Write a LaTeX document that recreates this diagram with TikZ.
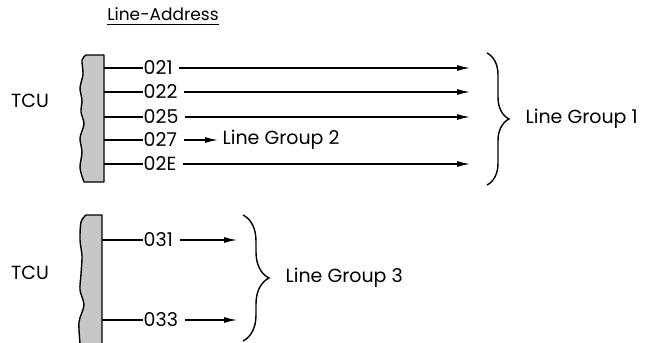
\documentclass[tikz,border=0pt]{standalone}
\usepackage{fontspec}
\setmainfont{Poppins}
\usetikzlibrary{arrows.meta,decorations.pathreplacing}
\begin{document}
\begin{tikzpicture}[x=1pt, y=-1pt, line width=1.3pt,
  txt/.style={font=\fontsize{19}{21}\selectfont, inner sep=0pt},
  addr/.style={txt, anchor=west},
  arr/.style={-{Latex[length=13pt,width=6pt]}},
  tcubar/.style={fill=black!22, draw=black, line width=1.4pt, line join=round},
  brc/.style={decorate, decoration={brace, amplitude=#1}, line width=1.4pt}]
\useasboundingbox (0,0) rectangle (649,343);
% heading
\node[txt, font=\fontsize{17}{19}\selectfont] (title) at (163,14) {Line-Address};
\draw ([yshift=-3pt]title.south west) -- ([yshift=-3pt]title.south east);
% first TCU
\node[txt] (tcu1) at (30,101) {TCU};
\filldraw[tcubar] plot[smooth] coordinates {(86,55) (82,60) (83,74) (80,88) (82,100) (81,112) (84,124) (80,138) (82,152) (80,168) (84,182)} -- (104,182) -- (104,55) -- cycle;
\node[addr] (a021) at (143,68) {021};
\node[addr] (a022) at (143,92) {022};
\node[addr] (a025) at (143,117) {025};
\node[addr] (a027) at (143,140) {027};
\node[addr] (a02E) at (143,164) {02E};
\node[txt, anchor=west] (lg2) at (222,140) {Line Group 2};
\coordinate (e021) at (470,68);
\coordinate (e022) at (470,92);
\coordinate (e025) at (470,117);
\coordinate (e02E) at (470,164);
\draw (104,68) -- (a021.west);
\draw (104,92) -- (a022.west);
\draw (104,117) -- (a025.west);
\draw (104,140) -- (a027.west);
\draw (104,164) -- (a02E.west);
\draw[arr] ([xshift=6pt]a021.east) -- (e021);
\draw[arr] ([xshift=6pt]a022.east) -- (e022);
\draw[arr] ([xshift=6pt]a025.east) -- (e025);
\draw[arr] ([xshift=6pt]a027.east) -- ([xshift=-4pt]lg2.west);
\draw[arr] ([xshift=6pt]a02E.east) -- (e02E);
\coordinate (g1top) at (487,53);
\coordinate (g1bot) at (487,185);
\draw[brc=22pt] (g1top) -- (g1bot);
\node[txt, anchor=west] (lg1) at (525,119) {Line Group 1};
% second TCU
\node[txt] (tcu2) at (30,273) {TCU};
\fill[tcubar, draw=none] plot[smooth] coordinates {(86,215) (81,222) (80,240) (82,256) (81,274) (80,290) (84,305) (79,322) (80,343)} -- (102,343) -- (102,215) -- cycle;
\draw[line width=1.4pt, line join=round] plot[smooth] coordinates {(80,343) (79,322) (84,305) (80,290) (81,274) (82,256) (80,240) (81,222) (86,215)} -- (102,215) -- (102,343);
\node[addr] (a031) at (143,240) {031};
\node[addr] (a033) at (143,320) {033};
\coordinate (e031) at (237,240);
\coordinate (e033) at (237,320);
\draw (102,240) -- (a031.west);
\draw (102,320) -- (a033.west);
\draw[arr] ([xshift=6pt]a031.east) -- (e031);
\draw[arr] ([xshift=6pt]a033.east) -- (e033);
\coordinate (g3top) at (243,215);
\coordinate (g3bot) at (243,341);
\draw[brc=26pt] (g3top) -- (g3bot);
\node[txt, anchor=west] (lg3) at (285,278) {Line Group 3};
\end{tikzpicture}
\end{document}
